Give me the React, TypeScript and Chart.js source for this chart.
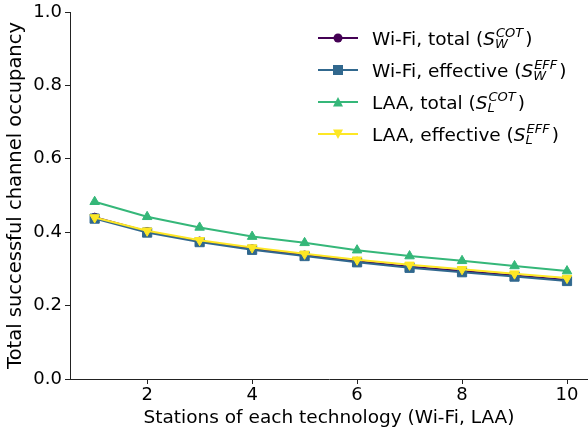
import React, { useEffect, useRef } from "react";
import { Chart, registerables } from "chart.js";

Chart.register(...registerables);

const stations = [1, 2, 3, 4, 5, 6, 7, 8, 9, 10];
const wifiTotal = [0.441, 0.402, 0.376, 0.355, 0.338, 0.321, 0.306, 0.294, 0.282, 0.27];
const wifiEffective = [0.437, 0.399, 0.373, 0.352, 0.335, 0.318, 0.303, 0.291, 0.279, 0.267];
const laaTotal = [0.483, 0.442, 0.413, 0.388, 0.371, 0.351, 0.335, 0.322, 0.308, 0.294];
const laaEffective = [0.44, 0.404, 0.378, 0.358, 0.341, 0.325, 0.311, 0.299, 0.287, 0.275];

const xTicks = [2, 4, 6, 8, 10];
const yTicks = [0, 0.2, 0.4, 0.6, 0.8, 1.0];

const legendBase = ["Wi-Fi, total (", "Wi-Fi, effective (", "LAA, total (", "LAA, effective ("];
const legendSub = ["W", "W", "L", "L"];
const legendSup = ["COT", "EFF", "COT", "EFF"];

const colors = ["#440154", "#31688e", "#35b779", "#fde725"];
const markers = ["circle", "rect", "triangle", "triangleDown"];

const FONT = '"DejaVu Sans", sans-serif';
const TEXT_SIZE = 18.5;
const YTITLE_SIZE = 19.5;
const TICK_SIZE = 18;

function drawMarker(ctx: CanvasRenderingContext2D, kind: string, x: number, y: number, color: string) {
  ctx.fillStyle = color;
  ctx.beginPath();
  if (kind === "circle") {
    ctx.arc(x, y, 4.5, 0, Math.PI * 2);
  } else if (kind === "rect") {
    ctx.rect(x - 5, y - 5, 10, 10);
  } else if (kind === "triangle") {
    ctx.moveTo(x, y - 5);
    ctx.lineTo(x + 5, y + 4.5);
    ctx.lineTo(x - 5, y + 4.5);
    ctx.closePath();
  } else {
    ctx.moveTo(x, y + 5);
    ctx.lineTo(x + 5, y - 4.5);
    ctx.lineTo(x - 5, y - 4.5);
    ctx.closePath();
  }
  ctx.fill();
}

const legendPlugin = {
  id: "mplLegend",
  afterDraw(chart: any) {
    const ctx: CanvasRenderingContext2D = chart.ctx;
    const area = chart.chartArea;
    ctx.save();
    const x0 = area.right - 270;
    for (let i = 0; i < legendBase.length; i++) {
      const y = area.top + 26 + i * 32;
      ctx.strokeStyle = colors[i];
      ctx.lineWidth = 2;
      ctx.beginPath();
      ctx.moveTo(x0, y);
      ctx.lineTo(x0 + 40, y);
      ctx.stroke();
      drawMarker(ctx, markers[i], x0 + 20, y, colors[i]);

      let x = x0 + 54;
      const base = y + 7;
      ctx.fillStyle = "#000";
      ctx.textBaseline = "alphabetic";
      ctx.textAlign = "left";
      ctx.font = `${TEXT_SIZE}px ${FONT}`;
      ctx.fillText(legendBase[i], x, base);
      x += ctx.measureText(legendBase[i]).width;
      ctx.font = `italic ${TEXT_SIZE}px ${FONT}`;
      ctx.fillText("S", x, base);
      x += ctx.measureText("S").width;
      ctx.font = `italic 13px ${FONT}`;
      ctx.fillText(legendSup[i], x + 1, base - 8);
      ctx.fillText(legendSub[i], x, base + 3);
      x += Math.max(ctx.measureText(legendSup[i]).width, ctx.measureText(legendSub[i]).width) + 3;
      ctx.font = `${TEXT_SIZE}px ${FONT}`;
      ctx.fillText(")", x, base);
    }
    ctx.restore();
  },
};

export default function App() {
  const ref = useRef<HTMLCanvasElement | null>(null);

  useEffect(() => {
    document.body.style.margin = "0";
    const canvas = ref.current;
    if (!canvas) return;
    const mk = (data: number[], i: number, style: string, radius: number, rot: number, order: number) => ({
      label: legendBase[i],
      data: stations.map((s, k) => ({ x: s, y: data[k] })),
      borderColor: colors[i],
      backgroundColor: colors[i],
      pointBackgroundColor: colors[i],
      pointBorderColor: colors[i],
      pointBorderWidth: 1,
      pointStyle: style,
      pointRadius: radius,
      pointRotation: rot,
      borderWidth: 2,
      tension: 0,
      order,
    });
    const chart = new Chart(canvas, {
      type: "line",
      data: {
        datasets: [
          mk(wifiTotal, 0, "circle", 4, 0, 3),
          mk(wifiEffective, 1, "rect", 6.5, 0, 2),
          mk(laaTotal, 2, "triangle", 5.5, 0, 1),
          mk(laaEffective, 3, "triangle", 5.5, 180, 0),
        ],
      },
      options: {
        animation: false,
        responsive: false,
        events: [],
        layout: { autoPadding: false, padding: { top: 12, right: 0, left: 0, bottom: 0 } },
        plugins: { legend: { display: false }, tooltip: { enabled: false } },
        scales: {
          x: {
            type: "linear",
            min: 0.53,
            max: 10.4,
            afterBuildTicks: (scale: any) => {
              scale.ticks = xTicks.map((v) => ({ value: v }));
            },
            afterFit: (scale: any) => {
              scale.height = 58;
              scale.paddingLeft = 0;
              scale.paddingRight = 0;
            },
            grid: { drawOnChartArea: false, drawTicks: true, tickLength: 5, color: "#222" },
            border: { display: true, color: "#222", width: 1 },
            ticks: {
              color: "#000",
              font: { family: FONT, size: TICK_SIZE },
              padding: 1,
              maxRotation: 0,
              callback: (v: any) => String(v),
            },
            title: {
              display: true,
              text: "Stations of each technology (Wi-Fi, LAA)",
              color: "#000",
              font: { family: FONT, size: TEXT_SIZE },
              padding: { top: 0, bottom: 8 },
            },
          },
          y: {
            type: "linear",
            min: 0,
            max: 1,
            afterBuildTicks: (scale: any) => {
              scale.ticks = yTicks.map((v) => ({ value: v }));
            },
            afterFit: (scale: any) => {
              scale.width = 70;
              scale.paddingTop = 0;
              scale.paddingBottom = 0;
            },
            grid: { drawOnChartArea: false, drawTicks: true, tickLength: 5, color: "#222" },
            border: { display: true, color: "#222", width: 1 },
            ticks: {
              color: "#000",
              font: { family: FONT, size: TICK_SIZE },
              padding: 3,
              callback: (v: any) => Number(v).toFixed(1),
            },
            title: {
              display: true,
              text: "Total successful channel occupancy",
              color: "#000",
              font: { family: FONT, size: YTITLE_SIZE },
              padding: { top: 4, bottom: 0 },
            },
          },
        },
      },
      plugins: [legendPlugin],
    } as any);
    return () => chart.destroy();
  }, []);

  return <canvas ref={ref} width={588} height={437} style={{ display: "block" }} />;
}
